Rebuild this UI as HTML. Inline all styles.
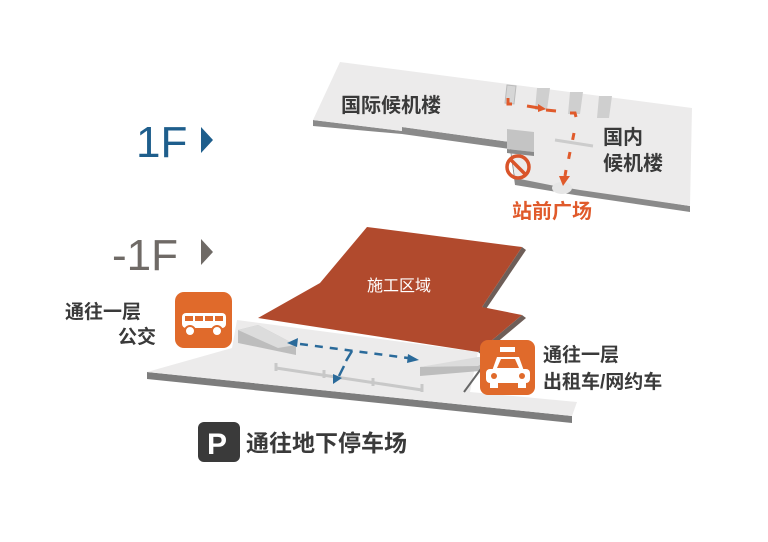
<!DOCTYPE html>
<html><head><meta charset="utf-8"><style>
html,body{margin:0;padding:0;background:#fff;}
svg{display:block;}
text{font-family:"Liberation Sans","Noto Sans CJK SC",sans-serif;font-weight:bold;}
</style></head><body>
<svg width="768" height="542" viewBox="0 0 768 542" xmlns="http://www.w3.org/2000/svg">
<rect width="768" height="542" fill="#fff"/>
<!-- 1F slab -->
<polygon points="313,120 402,131 402,127 510,142 515,178 575,188 690,206 690,212 575,195 515,185 510,149 402,134 313,126" fill="#8a8a8a"/>
<polygon points="340,62 692,108 690,206 580,190 568,188 555,186 515,178 510,142 402,127 402,131 313,120" fill="#ecebeb"/>
<ellipse cx="562" cy="188" rx="10" ry="6" fill="#e6e6e6"/>
<polygon points="507,85 516,86 514,104 505,103" fill="#d6d6d6" stroke="#bbb"/>
<path d="M537,88 h13 l-3,22 h-12 z" fill="#cfcfcf"/>
<path d="M570,92 h13 l-3,22 h-12 z" fill="#cfcfcf"/>
<path d="M599,96 h13 l-3,22 h-12 z" fill="#cfcfcf"/>
<polygon points="507,129 534,132 534,152 507,149" fill="#c4c4c4"/>
<polygon points="507,149 534,152 534,156 507,153" fill="#8a8a8a"/>
<line x1="555" y1="140" x2="593" y2="146" stroke="#ccc" stroke-width="3"/>
<path d="M508,98 v6 h4 M527,106 l12,2 M546,110 l10,1 M570,113 h5 l1,4" stroke="#e05a2b" stroke-width="3" fill="none"/>
<polygon points="538,104 546,109 538,112" fill="#e05a2b"/>
<path d="M574,133 l-2,10 M570,152 l-2,10 M566,170 l-1,6" stroke="#e05a2b" stroke-width="3" stroke-dasharray="7,5" fill="none"/>
<polygon points="559,176 570,176 563,186" fill="#e05a2b"/>
<circle cx="518" cy="167" r="11" fill="none" stroke="#d9542a" stroke-width="3.5"/>
<line x1="511" y1="160" x2="525" y2="174" stroke="#d9542a" stroke-width="3.5"/>
<text x="341" y="112" font-size="20" fill="#3a3a3a">国际候机楼</text>
<text x="603" y="144" font-size="20" fill="#3a3a3a">国内</text>
<text x="603" y="170" font-size="20" fill="#3a3a3a">候机楼</text>
<text x="512" y="218" font-size="20" fill="#e05a2b">站前广场</text>
<text x="136" y="157" font-size="44" fill="#1e5e8c" style="font-weight:normal">1F</text>
<polygon points="201,127 213,140 201,153" fill="#1e5e8c"/>
<text x="112" y="270" font-size="44" fill="#6f6a66" style="font-weight:normal">-1F</text>
<polygon points="201,239 213,252 201,265" fill="#6f6a66"/>
<!-- -1F floor -->
<polygon points="147,372 572,416 572,423 147,379" fill="#7d7d7d"/>
<polygon points="147,372 232,348 237,320 478,352 470,392 577,402 572,416" fill="#ecebeb"/>
<!-- red zone with dark side -->
<polygon points="522,247 526,250 486,309 482,307" fill="#6e5e58"/>
<polygon points="522,315 526,318 482,355 478,352" fill="#6e5e58"/>
<polygon points="367,227 522,247 482,307 522,315 478,352 258,318 320,283" fill="#b14a2d"/>
<text x="367" y="291" font-size="16" fill="#fff" style="font-weight:normal">施工区域</text>
<!-- ramps -->
<polygon points="238,330 258,325 296,345 296,355 238,343" fill="#bdbdbd"/>
<polygon points="238,330 258,325 296,345 278,348" fill="#dcdcdc"/>
<polygon points="420,367 492,357 492,370 420,376" fill="#bdbdbd"/>
<polygon points="420,367 478,357 492,357 478,366" fill="#dcdcdc"/>
<line x1="464" y1="392" x2="486" y2="362" stroke="#666" stroke-width="2"/>
<line x1="276" y1="368" x2="422" y2="390" stroke="#c8c8c8" stroke-width="3"/>
<path d="M276,363 v8 M324,370 v8 M373,378 v8 M422,384 v8" stroke="#c8c8c8" stroke-width="3"/>
<path d="M300,344 L408,358" stroke="#2a6a9a" stroke-width="2.5" stroke-dasharray="8,7" fill="none"/>
<polygon points="287,343 298,338 297,347" fill="#2a6a9a"/>
<polygon points="419,360 408,354 407,363" fill="#2a6a9a"/>
<path d="M352,351 l-6,10 M344,366 l-5,10" stroke="#2a6a9a" stroke-width="2.5" fill="none"/>
<polygon points="333,384 342,378 333,374" fill="#2a6a9a"/>
<!-- bus -->
<rect x="175" y="292" width="57" height="56" rx="9" fill="#e06a2b"/>
<rect x="182" y="313" width="44" height="15" rx="4" fill="#fff"/>
<rect x="185" y="316" width="8" height="5" fill="#e06a2b"/><rect x="195" y="316" width="8" height="5" fill="#e06a2b"/><rect x="205" y="316" width="8" height="5" fill="#e06a2b"/><rect x="215" y="316" width="8" height="5" fill="#e06a2b"/>
<circle cx="190" cy="331" r="5" fill="#fff" stroke="#e06a2b" stroke-width="2"/>
<circle cx="217" cy="331" r="5" fill="#fff" stroke="#e06a2b" stroke-width="2"/>
<text x="65" y="318" font-size="19" fill="#3a3a3a">通往一层</text>
<text x="118" y="343" font-size="19" fill="#3a3a3a">公交</text>
<!-- taxi -->
<rect x="480" y="340" width="55" height="55" rx="8" fill="#e06a2b"/>
<rect x="500" y="347" width="15" height="5" fill="#fff"/>
<path d="M492,371 l5,-14 h22 l5,14 z" fill="#fff"/>
<rect x="486" y="369" width="44" height="14" rx="4" fill="#fff"/>
<rect x="490" y="381" width="8" height="7" fill="#fff"/><rect x="518" y="381" width="8" height="7" fill="#fff"/>
<path d="M497,368 l4,-9 h14 l4,9 z" fill="#e06a2b"/>
<circle cx="494" cy="376" r="3" fill="#e06a2b"/><circle cx="522" cy="376" r="3" fill="#e06a2b"/>
<text x="543" y="361" font-size="19" fill="#3a3a3a">通往一层</text>
<text x="543" y="388" font-size="19" fill="#3a3a3a">出租车/网约车</text>
<!-- parking -->
<rect x="198" y="422" width="42" height="40" rx="6" fill="#3a3a3a"/>
<text x="207" y="454" font-size="30" fill="#fff">P</text>
<text x="246" y="451" font-size="23" fill="#3a3a3a">通往地下停车场</text>
</svg>
</body></html>
